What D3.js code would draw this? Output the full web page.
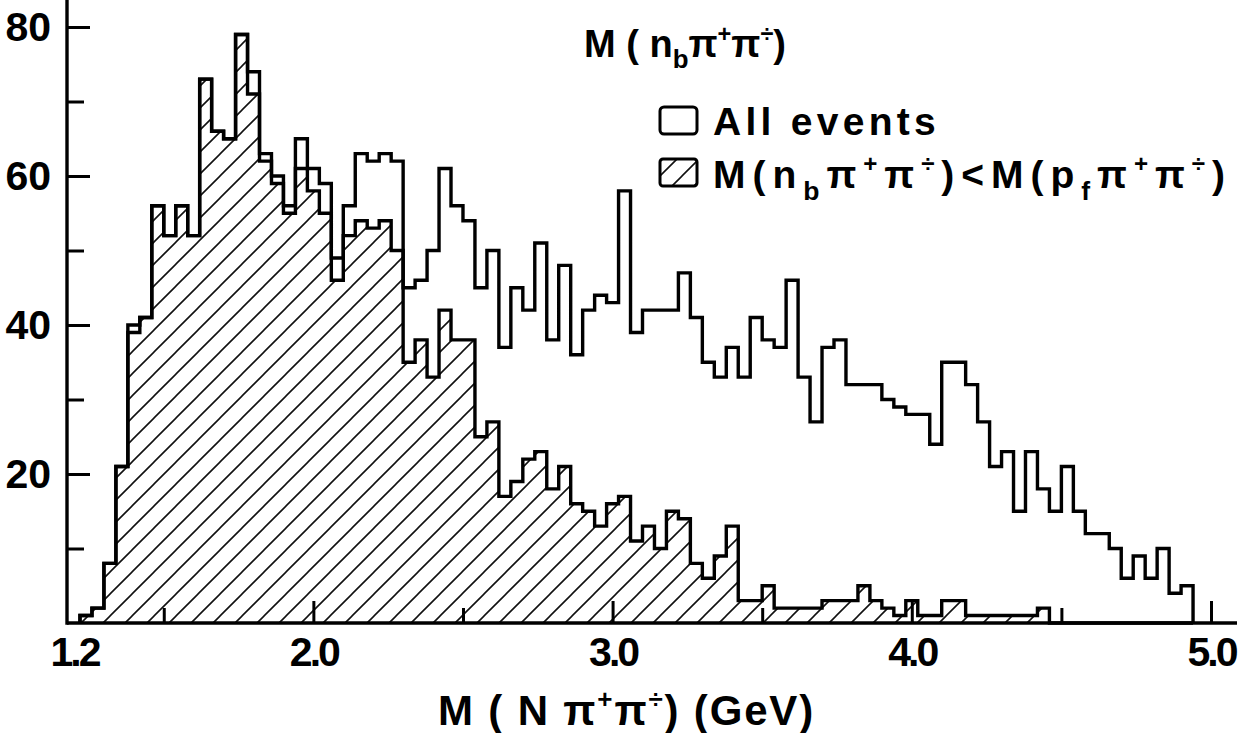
<!DOCTYPE html>
<html><head><meta charset="utf-8">
<script src="https://cdn.jsdelivr.net/npm/d3@7"></script>
<style>
html,body{margin:0;padding:0;background:#fff;}
svg{display:block;}
text{font-family:"Liberation Sans", Arial, sans-serif; fill:#000; font-weight:bold;}
</style></head><body>
<svg id="chart" width="1251" height="733"></svg>
<script>
// ---- data ----
const binStart = 1.22;     // GeV, left edge of first bin
const binWidth = 0.04;     // GeV
const allEvents = [1,2,8,21,40,41,56,52,56,52, 73,66,65,79,74,63,60,56,65,61,
  59,49,56,63,62,63,62,45,46,50, 61,56,54,45,50,37,45,42,51,38,
  48,36,42,44,43,58,39,42,42,42, 47,41,35,33,37,33,41,38,37,46,
  33,27,37,38,32,32,32,30,29,28, 28,24,35,35,32,27,21,23,15,23,
  18,15,21,15,12,12,10,6,9,6, 10,4,5];
const selectedEvents = [1,2,8,21,39,41,56,52,56,52, 73,66,65,79,71,62,59,55,61,58,
  55,46,52,54,53,54,50,35,38,33, 42,38,38,25,27,17,19,22,23,18,
  21,16,15,13,16,17,11,13,10,15, 14,8,6,9,13,3,3,5,2,2,
  2,2,3,3,3,5,3,2,1,3, 1,1,3,3,1,1,1,1,1,1,
  2,0,0,0,0,0,0,0,0,0, 0,0,0];
const xTickMajor = [2.0, 3.0, 4.0, 5.0];
const xTickMinor = [1.5, 2.5, 3.5, 4.5];
const xTickLabels = [1.2, 2.0, 3.0, 4.0, 5.0];
const yTickMajor = [20, 40, 60, 80];
const yTickMinor = [10, 30, 50, 70];

// ---- setup ----
const svg = d3.select("#chart");
const x = d3.scaleLinear().domain([1.2, 5.0]).range([74, 1211]);
const y = d3.scaleLinear().domain([0, 80]).range([623, 27]);
const axisX = x(1.2) - 7;

const defs = svg.append("defs");
const pat = defs.append("pattern").attr("id", "hatch")
  .attr("patternUnits", "userSpaceOnUse").attr("width", 22).attr("height", 22);
pat.append("path").attr("d", "M-3,3 L3,-3 M0,22 L22,0 M19,25 L25,19")
  .attr("stroke", "#111").attr("stroke-width", 1.6);

function stepPoints(vals) {
  const pts = [[binStart, 0]];
  vals.forEach((v, i) => pts.push([binStart + i * binWidth, v]));
  pts.push([binStart + vals.length * binWidth, 0]);
  return pts;
}
const line = d3.line().x(d => x(d[0])).y(d => y(d[1])).curve(d3.curveStepAfter);
const area = d3.area().x(d => x(d[0])).y0(y(0)).y1(d => y(d[1])).curve(d3.curveStepAfter);

// hatched histogram
svg.append("path").attr("d", area(stepPoints(selectedEvents)))
  .attr("fill", "url(#hatch)");
svg.append("path").attr("d", line(stepPoints(selectedEvents)))
  .attr("fill", "none").attr("stroke", "#000").attr("stroke-width", 3.4);
// all events histogram
svg.append("path").attr("d", line(stepPoints(allEvents)))
  .attr("fill", "none").attr("stroke", "#000").attr("stroke-width", 3.4);

// ---- axes ----
const gx = svg.append("g").attr("transform", `translate(0,${y(0)})`);
gx.append("g").call(d3.axisBottom(x).tickValues(xTickMajor).tickSize(-22).tickFormat(""))
  .call(g => g.select(".domain").remove())
  .selectAll("line").attr("stroke", "#000").attr("stroke-width", 3);
gx.append("g").call(d3.axisBottom(x).tickValues(xTickMinor).tickSize(-15).tickFormat(""))
  .call(g => g.select(".domain").remove())
  .selectAll("line").attr("stroke", "#000").attr("stroke-width", 3);
gx.append("g").call(d3.axisBottom(x).tickValues(xTickLabels).tickSize(0).tickPadding(14)
    .tickFormat(d3.format(".1f")))
  .call(g => g.select(".domain").remove())
  .selectAll("text").attr("font-size", 41).attr("letter-spacing", -3)
  .attr("font-family", "Liberation Sans, Arial, sans-serif").attr("fill", "#000");
gx.append("line").attr("x1", axisX).attr("x2", x(5.0) + 26).attr("y1", 0).attr("y2", 0)
  .attr("stroke", "#000").attr("stroke-width", 3.4);

const gy = svg.append("g").attr("transform", `translate(${axisX},0)`);
gy.append("g").call(d3.axisRight(y).tickValues(yTickMajor).tickSize(23).tickFormat(""))
  .call(g => g.select(".domain").remove())
  .selectAll("line").attr("stroke", "#000").attr("stroke-width", 3);
gy.append("g").call(d3.axisRight(y).tickValues(yTickMinor).tickSize(17).tickFormat(""))
  .call(g => g.select(".domain").remove())
  .selectAll("line").attr("stroke", "#000").attr("stroke-width", 3);
gy.append("g").call(d3.axisLeft(y).tickValues(yTickMajor).tickSize(0).tickPadding(16))
  .call(g => g.select(".domain").remove())
  .selectAll("text").attr("font-size", 41)
  .attr("font-family", "Liberation Sans, Arial, sans-serif").attr("fill", "#000");
gy.append("line").attr("x1", 0).attr("x2", 0).attr("y1", 0).attr("y2", y(0) + 1.7)
  .attr("stroke", "#000").attr("stroke-width", 3.4);

// ---- rich text helper ----
function rich(parent, xPos, yPos, fs, parts, targetWidth) {
  const t = parent.append("text").attr("x", xPos).attr("y", yPos).attr("font-size", fs);
  let offset = 0;
  parts.forEach(([s, kind]) => {
    const ts = t.append("tspan").text(s);
    let target = 0;
    if (kind === "sub") { target = 0.3 * fs; ts.attr("font-size", fs * 0.68); }
    else if (kind === "sup") { target = -0.4 * fs; ts.attr("font-size", fs * 0.62); }
    ts.attr("dy", target - offset);
    offset = target;
  });
  if (targetWidth) {
    const n = parts.map(p => p[0]).join("").length;
    const w = t.node().getBBox().width;
    t.attr("letter-spacing", Math.max(0, (targetWidth - w) / n));
  }
  return t;
}

// x title
rich(svg, 438, 725, 42, [["M ( N π"], ["+", "sup"], ["π"], ["÷", "sup"], [") (GeV)"]], 377);

// legend
rich(svg, 584, 57, 38, [["M ( n"], ["b", "sub"], ["π"], ["+", "sup"], ["π"], ["÷", "sup"], [")"]], 0);
svg.append("rect").attr("x", 660).attr("y", 107).attr("width", 37).attr("height", 27).attr("rx", 4)
  .attr("fill", "none").attr("stroke", "#000").attr("stroke-width", 3);
rich(svg, 713, 135, 39, [["All events"]], 227);
svg.append("rect").attr("x", 660).attr("y", 159).attr("width", 37).attr("height", 27).attr("rx", 3)
  .attr("fill", "url(#hatch)").attr("stroke", "#000").attr("stroke-width", 3);
rich(svg, 713, 188, 39, [["M(n"], ["b", "sub"], ["π"], ["+", "sup"], ["π"], ["÷", "sup"],
  [")<M(p"], ["f", "sub"], ["π"], ["+", "sup"], ["π"], ["÷", "sup"], [")"]], 519);
</script></body></html>
